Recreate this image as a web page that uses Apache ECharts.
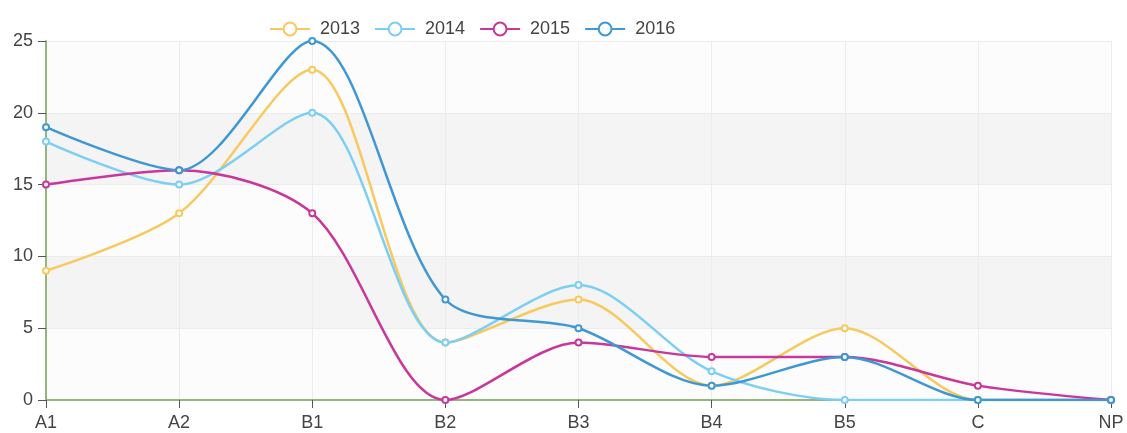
<!DOCTYPE html>
<html>
<head>
<meta charset="utf-8">
<script src="https://cdn.jsdelivr.net/npm/echarts@6/dist/echarts.min.js"></script>
<style>
  html, body { margin: 0; padding: 0; background: #fff; }
  #chart { width: 1127px; height: 433px; }
</style>
</head>
<body>
<div id="chart"></div>
<script>
const categories = ['A1', 'A2', 'B1', 'B2', 'B3', 'B4', 'B5', 'C', 'NP']
const seriesNames = ['2013', '2014', '2015', '2016']
const values2013 = [9, 13, 23, 4, 7, 1, 5, 0, 0]
const values2014 = [18, 15, 20, 4, 8, 2, 0, 0, 0]
const values2015 = [15, 16, 13, 0, 4, 3, 3, 1, 0]
const values2016 = [19, 16, 25, 7, 5, 1, 3, 0, 0]
const colors = ['#f8c95e', '#7ccff3', '#c8389b', '#3f98d4']

const allValues = [values2013, values2014, values2015, values2016]

const chart = echarts.init(document.getElementById('chart'))

chart.setOption({
  animation: false,
  color: colors,
  legend: {
    top: 15,
    left: 264,
    itemWidth: 40,
    itemHeight: 16,
    itemGap: 14,
    textStyle: { color: '#444', fontSize: 18, fontFamily: 'Liberation Sans', padding: [0, 0, 0, 5] },
    data: seriesNames
  },
  grid: {
    left: 46,
    right: 16,
    top: 41,
    bottom: 33
  },
  xAxis: {
    type: 'category',
    boundaryGap: false,
    data: categories,
    axisLine: { lineStyle: { color: '#93b57e', width: 2 } },
    axisTick: { show: true, alignWithLabel: true, length: 8, lineStyle: { color: '#555' } },
    axisLabel: { color: '#444', fontSize: 18, fontFamily: 'Liberation Sans', margin: 14 },
    splitLine: { show: true, lineStyle: { color: '#ececec' } }
  },
  yAxis: {
    type: 'value',
    min: 0,
    max: 25,
    interval: 5,
    axisLine: { show: true, lineStyle: { color: '#93b57e', width: 2 } },
    axisTick: { show: true, length: 8, lineStyle: { color: '#555' } },
    axisLabel: { color: '#444', fontSize: 18, fontFamily: 'Liberation Sans', margin: 13 },
    splitLine: { show: true, lineStyle: { color: '#ececec' } },
    splitArea: { show: true, areaStyle: { color: ['#fcfcfc', '#f4f4f4'] } }
  },
  series: seriesNames.map((name, i) => ({
    name: name,
    type: 'line',
    smooth: 0.3,
    data: allValues[i],
    symbol: 'emptyCircle',
    symbolSize: 6,
    lineStyle: { width: 2.5, color: colors[i] },
    itemStyle: { color: colors[i], borderWidth: 2 }
  }))
})
</script>
</body>
</html>
